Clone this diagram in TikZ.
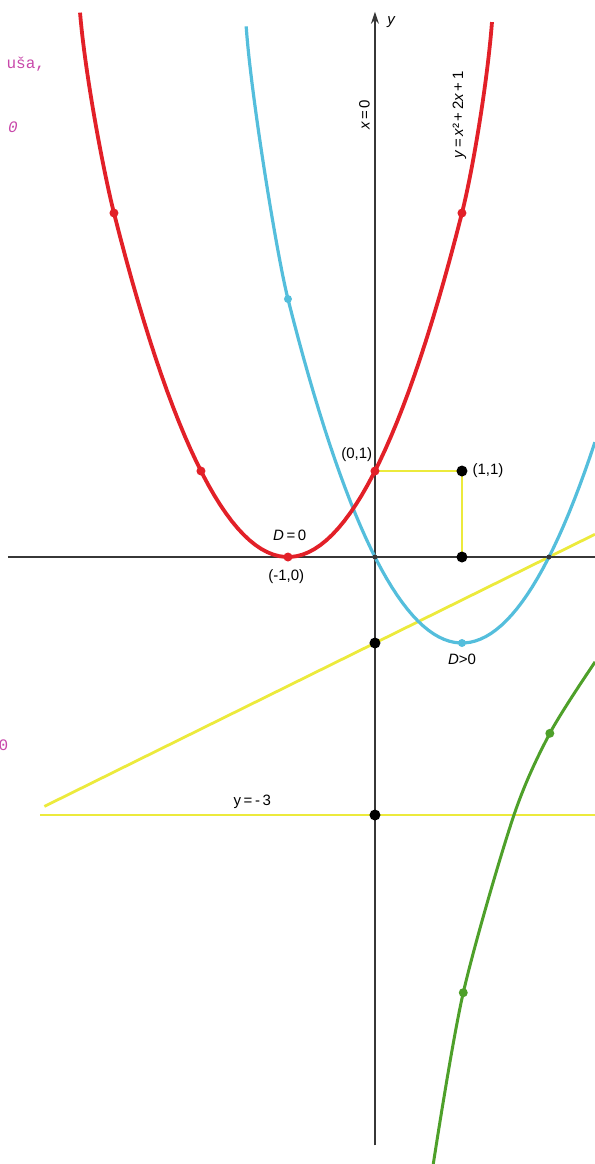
\documentclass[tikz,border=0pt]{standalone}
\usepackage{fontspec}
\setmainfont{Liberation Sans}
\setmonofont{Liberation Mono}
\usetikzlibrary{arrows.meta}
\definecolor{curvered}{RGB}{226,32,40}
\definecolor{curvecyan}{RGB}{84,190,220}
\definecolor{lineyellow}{RGB}{236,234,60}
\definecolor{curvegreen}{RGB}{78,160,42}
\definecolor{axisgray}{RGB}{55,55,55}
\definecolor{notepink}{RGB}{200,72,170}
\begin{document}
\begin{tikzpicture}[
    x=87pt, y=86pt,
    axis/.style={axisgray, line width=1.3pt},
    redcurve/.style={curvered, line width=3.8pt},
    cyancurve/.style={curvecyan, line width=3.2pt},
    yellowline/.style={lineyellow, line width=2.8pt},
    greencurve/.style={curvegreen, line width=3pt},
    dot/.style={circle, fill=black, inner sep=0pt, minimum size=11pt},
    curvedot/.style={circle, inner sep=0pt, minimum size=9pt},
    tinydot/.style={circle, fill=axisgray, inner sep=0pt, minimum size=5pt},
    label/.style={font=\fontsize{15}{17}\selectfont, inner sep=1pt},
    note/.style={font=\ttfamily\fontsize{16}{18}\selectfont, notepink, inner sep=0pt}
]
\useasboundingbox (-4.310,-7.058) rectangle (2.529,6.477);
% Points
\coordinate (origin) at (0,0);
\coordinate (xleft) at (-4.22,0);
\coordinate (xright) at (2.529,0);
\coordinate (ybottom) at (0,-6.84);
\coordinate (ytop) at (0,6.34);
\coordinate (p01) at (0,1);
\coordinate (p11) at (1,1);
\coordinate (p10) at (1,0);
\coordinate (p20) at (2,0);
\coordinate (slantleft) at (-3.8,-2.9);
\coordinate (slantright) at (2.529,0.2645);
\coordinate (flatleft) at (-3.85,-3);
\coordinate (flatright) at (2.529,-3);

% Yellow lines
\draw[yellowline] (slantleft) -- (slantright);
\draw[yellowline] (flatleft) -- (flatright);
\draw[yellowline] (p01) -- (p11) -- (p10);

% Axes
\draw[axis] (xleft) -- (xright);
\draw[axis, -{Stealth[length=12pt, width=8pt]}] (ybottom) -- (ytop);

% Green curve
\draw[greencurve] plot[smooth] coordinates {(0.67,-7.06) (1.015,-5.066) (1.586,-3.035) (2.01,-2.05) (2.53,-1.22)};

% Cyan parabola
\draw[cyancurve] (-1.48,6.17) .. controls (-1.43,5.4) and (-1.13,3.52) .. (-1,3)
    -- plot[domain=-1:2.529, samples=60] (\x,{(\x-1)^2-1});

% Red parabola
\draw[redcurve] (-3.39,6.33) .. controls (-3.33,5.6) and (-3.12,4.48) .. (-3,4)
    -- plot[domain=-3:1, samples=60] (\x,{(\x+1)^2})
    .. controls (1.12,4.48) and (1.29,5.5) .. (1.345,6.22);

% Dots
\foreach \px/\py in {-3/4, -2/1, -1/0, 0/1, 1/4}
    \node[curvedot, fill=curvered] at (\px,\py) {};
\node[curvedot, fill=curvecyan, minimum size=8pt] (cyandot) at (-1,3) {};
\node[curvedot, fill=curvecyan, minimum size=8pt] (cyanvertex) at (1,-1) {};
\node[curvedot, fill=curvegreen] (greendot1) at (2.01,-2.05) {};
\node[curvedot, fill=curvegreen] (greendot2) at (1.015,-5.066) {};
\node[tinydot] (dotorigin) at (origin) {};
\node[tinydot] (dot20) at (p20) {};
\node[dot] (dot11) at (p11) {};
\node[dot] (dot10) at (p10) {};
\node[dot] (dotm1) at (0,-1) {};
\node[dot] (dotm3) at (0,-3) {};

% Labels
\node[label] (ylabel) at (0.19,6.22) {\textit{y}};
\node[label, rotate=90] (xzero) at (-0.12,5.14) {\textit{x}\,=\,0};
\node[label, rotate=90] (redeq) at (0.97,5.14) {\textit{y}\,=\,\textit{x}²\,+\,2\textit{x}\,+\,1};
\node[label] (lab01) at (-0.21,1.19) {(0,1)};
\node[label] (lab11) at (1.3,1.01) {(1,1)};
\node[label] (dzero) at (-0.98,0.25) {\textit{D}\,=\,0};
\node[label] (labm10) at (-1.02,-0.23) {(-1,0)};
\node[label] (dpos) at (1.0,-1.19) {\textit{D}>0};
\node[label] (ythree) at (-1.41,-2.85) {y\,=\,-\,3};

% Pink notes
\node[note, anchor=east] (note1) at (-3.79,5.73) {uša,};
\node[note] (note2) at (-4.16,5.0) {\textit{0}};
\node[note] (note3) at (-4.27,-2.19) {0};
\end{tikzpicture}
\end{document}
